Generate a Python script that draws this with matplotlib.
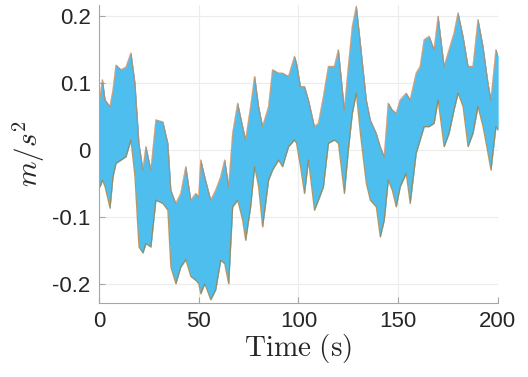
import numpy as np
import matplotlib
matplotlib.use("Agg")
from matplotlib import pyplot as plt

# envelope of the bundle of traces
t = [0, 0.5, 1.7, 3, 5.5, 7, 8.5, 11, 13.5, 16, 18, 20, 22, 23.5, 26, 28.5, 32,
     34.5, 36, 38.5, 41, 43.5, 46, 48.5, 50, 51, 53, 56, 58.5, 61, 63, 65, 67,
     69.5, 72, 73.5, 76, 78, 80, 82, 85, 87, 90, 92, 95, 98, 99, 101, 103, 105,
     108, 110, 112.5, 115, 118, 120, 123, 125, 127, 129, 131, 134, 136, 139,
     141, 143, 145, 147, 149, 151, 154, 156, 159, 161, 163, 165.5, 168, 170,
     173, 175.5, 178, 180, 182.5, 185, 187.5, 190, 192.5, 195, 196.5, 199, 200]
upper = [0.07, 0.08, 0.105, 0.075, 0.065, 0.09, 0.127, 0.12, 0.124, 0.145, 0.1,
         0.01, -0.03, 0.005, -0.03, 0.045, 0.042, 0.01, -0.06, -0.08, -0.065,
         -0.025, -0.075, -0.065, -0.07, -0.015, -0.04, -0.075, -0.06, -0.04,
         -0.015, -0.055, 0.025, 0.07, 0.035, 0.015, 0.065, 0.11, 0.065, 0.035,
         0.065, 0.12, 0.115, 0.115, 0.11, 0.14, 0.13, 0.095, 0.095, 0.075, 0.035,
         0.04, 0.08, 0.125, 0.125, 0.15, 0.06, 0.125, 0.185, 0.215, 0.16, 0.075,
         0.045, 0.025, 0.005, -0.01, 0.07, 0.06, 0.055, 0.075, 0.085, 0.075,
         0.115, 0.125, 0.165, 0.17, 0.15, 0.2, 0.125, 0.15, 0.175, 0.205, 0.17,
         0.125, 0.125, 0.195, 0.155, 0.1, 0.075, 0.15, 0.14]
lower = [-0.05, -0.055, -0.045, -0.055, -0.087, -0.04, -0.02, -0.015, -0.01,
         0.015, -0.04, -0.145, -0.154, -0.14, -0.145, -0.075, -0.08, -0.09,
         -0.175, -0.2, -0.175, -0.164, -0.189, -0.195, -0.2, -0.215, -0.2,
         -0.224, -0.209, -0.165, -0.17, -0.2, -0.085, -0.075, -0.105, -0.135,
         -0.085, -0.025, -0.055, -0.115, -0.045, -0.03, -0.015, -0.025, 0.005,
         0.015, 0.01, -0.025, -0.065, -0.015, -0.09, -0.075, -0.055, 0.01, 0.015,
         0.01, -0.065, 0.0, 0.055, 0.085, 0.025, -0.05, -0.075, -0.085, -0.13,
         -0.105, -0.045, -0.06, -0.085, -0.055, -0.035, -0.08, -0.005, 0.015,
         0.035, 0.035, 0.04, 0.075, 0.005, 0.025, 0.06, 0.085, 0.065, 0.005,
         0.025, 0.065, 0.035, -0.005, -0.03, 0.035, 0.03]

yticks = [-0.2, -0.1, 0, 0.1, 0.2]
ytick_labels = ['-0.2', '-0.1', '0', '0.1', '0.2']
xticks = [0, 50, 100, 150, 200]

# matlab default line colours
upper_colors = ['#7E2F8E', '#EDB120']
lower_colors = ['#77AC30', '#D95319']
cyan = '#4DBEEE'

plt.rcParams['font.family'] = ['Liberation Sans', 'DejaVu Sans']
plt.rcParams['mathtext.fontset'] = 'cm'

fig = plt.figure(figsize=(5.28, 3.77), dpi=100)
ax = fig.add_axes([0.1875, 0.196, 0.7555, 0.791])

for c in upper_colors:
    ax.plot(t, upper, color=c, lw=0.8, alpha=0.45)
for c in lower_colors:
    ax.plot(t, lower, color=c, lw=0.8, alpha=0.45)
ax.fill_between(t, lower, upper, color=cyan, lw=0.3, edgecolor=cyan)

ax.set_xlim(0, 200)
ax.set_ylim(-0.229, 0.217)
ax.set_xticks(xticks)
ax.set_yticks(yticks)
ax.set_yticklabels(ytick_labels)

ax.grid(True, color='#ececec', lw=0.8)
ax.set_axisbelow(True)
for s in ['top', 'right']:
    ax.spines[s].set_visible(False)
for s in ['left', 'bottom']:
    ax.spines[s].set_color('#a6a6a6')
ax.tick_params(direction='in', length=4, color='#a6a6a6', labelsize=16,
               labelcolor='#262626', pad=6)

ax.set_xlabel(r'$\mathrm{Time\ (s)}$', fontsize=21, color='#262626', labelpad=0)
ax.set_ylabel(r'$m/s^2$', fontsize=21, color='#262626', labelpad=4)

fig.savefig('out.png', dpi=100)
